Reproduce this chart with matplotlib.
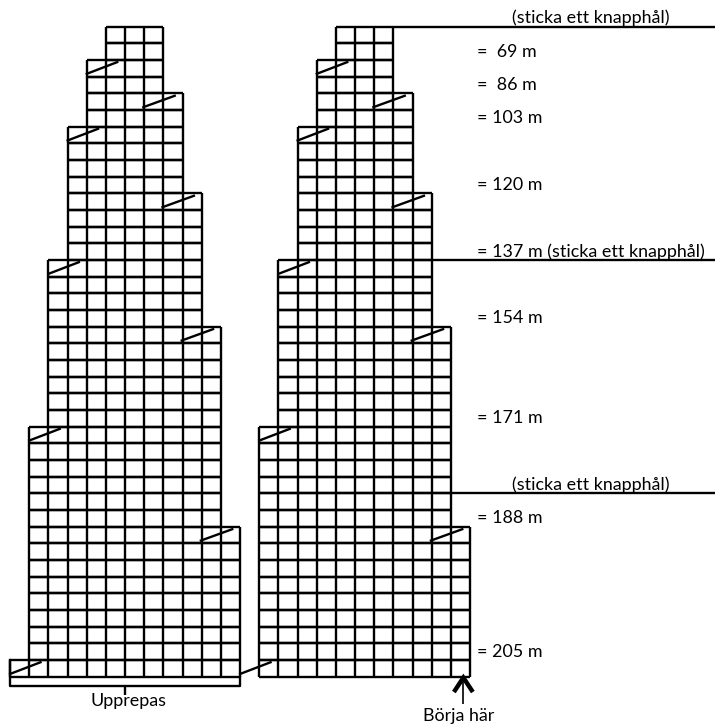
import numpy as np
import matplotlib.pyplot as plt

plt.rcParams["font.family"] = ["Lato", "DejaVu Sans"]

# knitting chart: each stage is a run of rows, widened by one stitch on one side
stage_rows = [2, 2, 2, 4, 4, 4, 6, 6, 8, 1]
stage_side = ["top", "left", "right", "left", "right", "left", "right", "left", "right", "left"]
meters = [69, 86, 103, 120, 137, 154, 171, 188, 205]
top_cols = (5, 8)
repeat_width = 12
hole_rows = [0, 14, 28]
hole_text = "(sticka ett knapphål)"
repeat_text = "Upprepas"
start_text = "Börja här"

# pixel size of one chart cell
CELL_W = 19.17
CELL_H = 16.67
X0, Y0 = 10, 26.7
LW = 1.7

fig = plt.figure(figsize=(7.15, 7.26), dpi=100)
ax = fig.add_axes([0, 0, 1, 1])
ax.set_xlim(-X0 / CELL_W, (715 - X0) / CELL_W)
ax.set_ylim((726 - Y0) / CELL_H, -Y0 / CELL_H)
ax.axis("off")

# rows of the chart (left col, right col) and the decrease marks
rows = []
diagonals = []
stage_last_row = []
left, right = top_cols
r = 0
for n, side in zip(stage_rows, stage_side):
    if side == "left":
        left -= 1
        diagonals.append((r, left, "left"))
    elif side == "right":
        right += 1
        diagonals.append((r, right - 1, "right"))
    for i in range(n):
        rows.append((left, right))
    r += n
    stage_last_row.append(r - 1)


def draw_block(offset, full_last):
    for r, (a, b) in enumerate(rows):
        if not full_last and r == len(rows) - 1:
            a += 1
        ax.hlines([r, r + 1], a + offset, b + offset, color="black", lw=LW)
        ax.vlines(np.arange(a, b + 1) + offset, r, r + 1, color="black", lw=LW)
    for r, c, side in diagonals:
        if side == "left":
            xs = [c - 0.05 + offset, c + 1.65 + offset]
            ys = [r + 0.85, r + 0.1]
        else:
            xs = [c - 1.1 + offset, c + 0.65 + offset]
            ys = [r + 0.85, r + 0.12]
        ax.plot(xs, ys, color="black", lw=LW, solid_capstyle="butt")


draw_block(0, True)
draw_block(repeat_width, False)

# button hole lines on the right
xmax = ax.get_xlim()[1]
for hr in hole_rows:
    ax.hlines(hr, rows[hr][1] + repeat_width, xmax, color="black", lw=LW)

label_x = 24.36
fs = 12.9
for i, m in enumerate(meters):
    y = stage_last_row[i] + 0.5
    txt = f"= {m} m" if m >= 100 else f"=  {m} m"
    if stage_last_row[i] + 1 == hole_rows[1]:
        txt += " " + hole_text
    ax.text(label_x, y, txt, ha="left", va="center", fontsize=fs)

for hr in [hole_rows[0], hole_rows[2]]:
    ax.text(30.3, hr - 0.55, hole_text, ha="center", va="center", fontsize=fs)

# "Upprepas" bracket under the left block
n_rows = len(rows)
yb = n_rows + 0.55
ax.plot([0, 0, repeat_width, repeat_width], [n_rows - 1, yb, yb, n_rows],
        color="black", lw=LW)
ax.vlines(repeat_width / 2, yb, yb + 0.55, color="black", lw=LW)
ax.text(repeat_width / 2 + 0.2, n_rows + 1.45, repeat_text, ha="center", va="center", fontsize=fs)

# start arrow
ax_x = 23.65
ax.vlines(ax_x, n_rows + 0.1, n_rows + 1.6, color="black", lw=1.2)
ax.plot([ax_x - 0.43, ax_x, ax_x + 0.43], [n_rows + 0.8, n_rows + 0.05, n_rows + 0.8],
        color="black", lw=3.2, solid_joinstyle="miter")
ax.text(23.4, n_rows + 2.35, start_text, ha="center", va="center", fontsize=fs)

fig.savefig("out.png", dpi=100)
